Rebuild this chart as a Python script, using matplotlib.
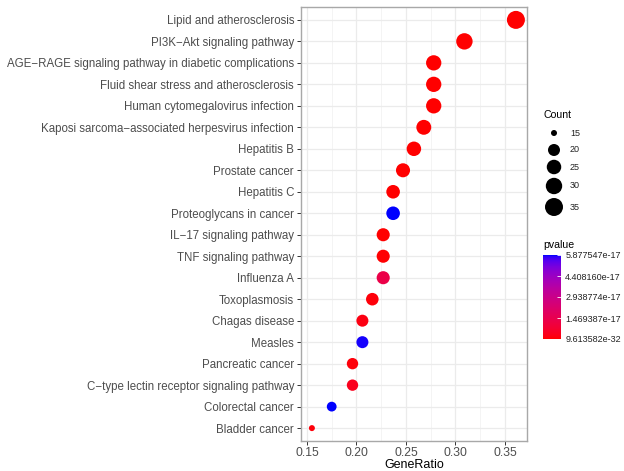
import numpy as np
import matplotlib
matplotlib.use("Agg")
import matplotlib.pyplot as plt
from matplotlib.colors import LinearSegmentedColormap, Normalize

plt.rcParams['font.family'] = ['Liberation Sans', 'DejaVu Sans']

pathways = [
    "Lipid and atherosclerosis",
    "PI3K\u2212Akt signaling pathway",
    "AGE\u2212RAGE signaling pathway in diabetic complications",
    "Fluid shear stress and atherosclerosis",
    "Human cytomegalovirus infection",
    "Kaposi sarcoma\u2212associated herpesvirus infection",
    "Hepatitis B",
    "Prostate cancer",
    "Hepatitis C",
    "Proteoglycans in cancer",
    "IL\u221217 signaling pathway",
    "TNF signaling pathway",
    "Influenza A",
    "Toxoplasmosis",
    "Chagas disease",
    "Measles",
    "Pancreatic cancer",
    "C\u2212type lectin receptor signaling pathway",
    "Colorectal cancer",
    "Bladder cancer",
]
gene_ratio = [0.361, 0.309, 0.278, 0.278, 0.278, 0.268, 0.258, 0.247, 0.237, 0.237,
              0.227, 0.227, 0.227, 0.216, 0.206, 0.206, 0.196, 0.196, 0.175, 0.155]
counts = [35, 30, 27, 27, 27, 26, 25, 24, 23, 23, 22, 22, 22, 21, 20, 20, 19, 19, 17, 15]
pvalues = [9.613582e-32, 1e-25, 2e-24, 5e-23, 3e-22, 4e-21, 2e-20, 3e-20, 1e-19, 5.877547e-17,
           2e-19, 3e-19, 1.3e-17, 1e-18, 2e-18, 5.83e-17, 1e-18, 3.5e-18, 5.86e-17, 1e-18]

x_ticks = [0.15, 0.20, 0.25, 0.30, 0.35]
x_ticklabels = ["0.15", "0.20", "0.25", "0.30", "0.35"]
size_breaks = [15, 20, 25, 30, 35]
pv_ticklabels = ["9.613582e-32", "1.469387e-17", "2.938774e-17", "4.408160e-17", "5.877547e-17"]

# ---- Lab-interpolated red->blue colormap (like ggplot gradient) ----
def srgb_to_lab(rgb):
    rgb = np.asarray(rgb, float)
    lin = np.where(rgb <= 0.04045, rgb / 12.92, ((rgb + 0.055) / 1.055) ** 2.4)
    M = np.array([[0.4124, 0.3576, 0.1805], [0.2126, 0.7152, 0.0722], [0.0193, 0.1192, 0.9505]])
    xyz = M @ lin / np.array([0.95047, 1.0, 1.08883])
    f = np.where(xyz > 0.008856, np.cbrt(xyz), 7.787 * xyz + 16 / 116)
    return np.array([116 * f[1] - 16, 500 * (f[0] - f[1]), 200 * (f[1] - f[2])])

def lab_to_srgb(lab):
    L, a, b = lab
    fy = (L + 16) / 116
    fx = fy + a / 500
    fz = fy - b / 200
    f = np.array([fx, fy, fz])
    xyz = np.where(f ** 3 > 0.008856, f ** 3, (f - 16 / 116) / 7.787) * np.array([0.95047, 1.0, 1.08883])
    Minv = np.array([[3.2406, -1.5372, -0.4986], [-0.9689, 1.8758, 0.0415], [0.0557, -0.2040, 1.0570]])
    lin = Minv @ xyz
    lin = np.clip(lin, 0, 1)
    rgb = np.where(lin <= 0.0031308, 12.92 * lin, 1.055 * lin ** (1 / 2.4) - 0.055)
    return np.clip(rgb, 0, 1)

lab_r = srgb_to_lab([1, 0, 0])
lab_b = srgb_to_lab([0, 0, 1])
cols = [lab_to_srgb(lab_r + t * (lab_b - lab_r)) for t in np.linspace(0, 1, 64)]
cmap = LinearSegmentedColormap.from_list("rb", cols)

pmin, pmax = min(pvalues), max(pvalues)
norm = Normalize(vmin=pmin, vmax=pmax)

def size_scale(c):
    c = np.asarray(c, float)
    d_px = 6 + 12 * np.sqrt((c - 15) / 20.0)
    return (d_px * 0.72) ** 2

fig = plt.figure(figsize=(6.24, 4.71), dpi=100)
W, H = 624, 471
ax = fig.add_axes([301 / W, 1 - 441 / H, 226 / W, 434 / H])

y = np.arange(len(pathways))[::-1]
ax.scatter(gene_ratio, y, s=size_scale(counts), c=pvalues, cmap=cmap, norm=norm,
           edgecolors='none', zorder=3)

ax.set_ylim(-0.6, len(pathways) - 1 + 0.6)
ax.set_xlim(0.144, 0.3722)
ax.set_yticks(y)
ax.set_yticklabels(pathways, fontsize=8.3, color='#4d4d4d')
ax.set_xticks(x_ticks)
ax.set_xticklabels(x_ticklabels, fontsize=8.8, color='#4d4d4d')
ax.set_xticks([0.175, 0.225, 0.275, 0.325], minor=True)
ax.tick_params(axis='both', which='major', length=3, width=0.7, color='#333333', pad=2)
ax.tick_params(axis='x', which='major', pad=1)
ax.tick_params(axis='x', which='minor', length=0)
ax.grid(True, which='major', color='#ebebeb', lw=0.9, zorder=0)
ax.grid(True, which='minor', axis='x', color='#f3f3f3', lw=0.6, zorder=0)
ax.set_axisbelow(True)
for sp in ax.spines.values():
    sp.set_color('#a8a8a8')
    sp.set_linewidth(1.0)
ax.set_xlabel("GeneRatio", fontsize=9, color='black')
ax.xaxis.set_label_coords(0.5, -(465 - 441) / 434.0)
ax.xaxis.label.set_va('center')

# ---- size legend ----
lax = fig.add_axes([530 / W, 1 - 220 / H, 94 / W, 120 / H])
lax.set_xlim(530, 624)
lax.set_ylim(220, 100)
lax.axis('off')
lax.text(543, 115, "Count", fontsize=7.6, ha='left', va='center')
leg_y = [133, 150, 167, 186, 207]
lax.scatter([554] * len(size_breaks), leg_y, s=size_scale(size_breaks), c='black',
            edgecolors='none', clip_on=False)
for yy, b in zip(leg_y, size_breaks):
    lax.text(570, yy, str(b), fontsize=6.5, ha='left', va='center', color='#222222')

# ---- colorbar ----
cax = fig.add_axes([543 / W, 1 - 339 / H, 18 / W, 84 / H])
sm = plt.cm.ScalarMappable(norm=norm, cmap=cmap)
cb = fig.colorbar(sm, cax=cax)
cb.outline.set_visible(False)
ticks = [pmin + k * (pmax - pmin) / 4 for k in range(5)]
cb.set_ticks(ticks)
cb.set_ticklabels(pv_ticklabels)
cax.tick_params(labelsize=6.5, length=3, color='white', direction='in', width=0.6, pad=3,
                labelcolor='#222222')
fig.text(543 / W, 1 - 245 / H, "pvalue", fontsize=7.6, ha='left', va='center')

fig.savefig("out.png", dpi=100)
